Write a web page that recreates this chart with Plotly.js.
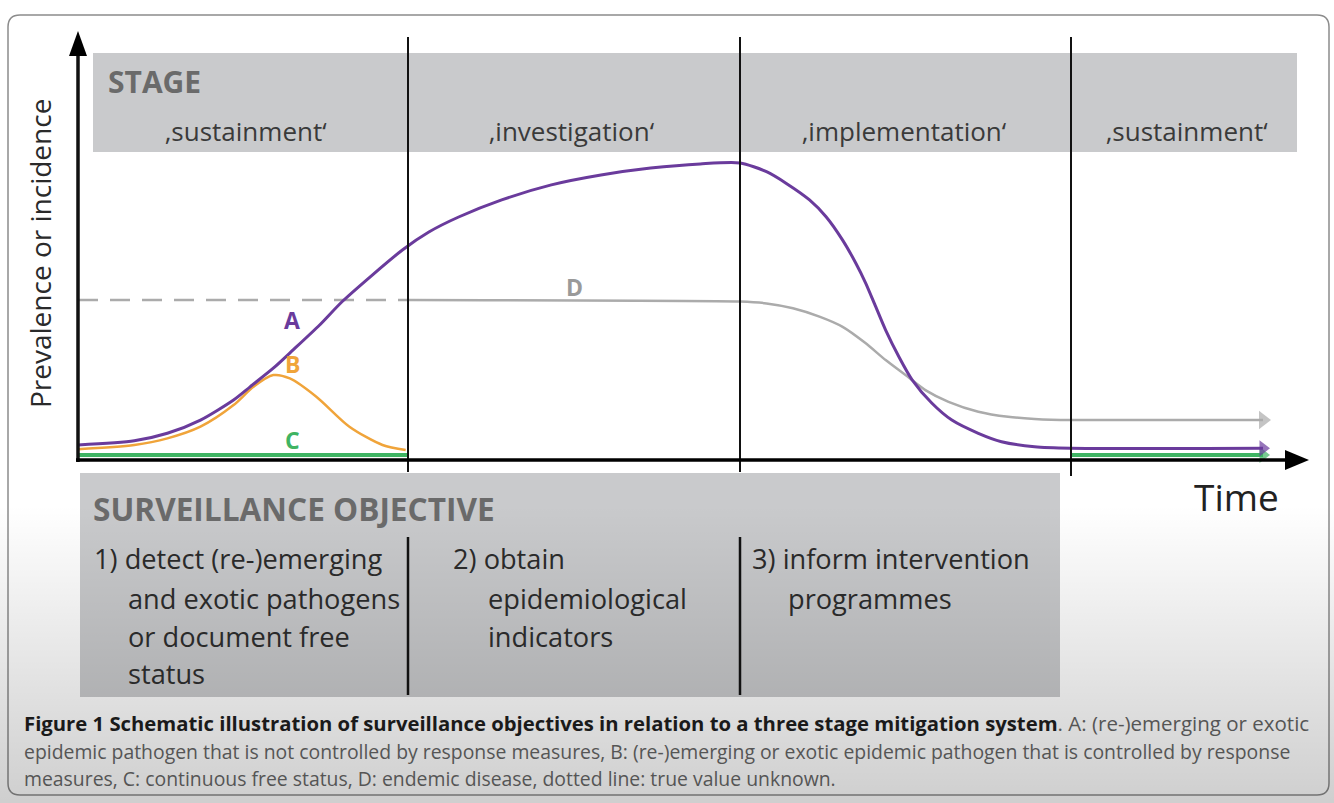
<!DOCTYPE html>
<html>
<head>
<meta charset="utf-8">
<script src="https://cdn.plot.ly/plotly-3.0.1.min.js"></script>
<style>html,body{margin:0;padding:0;background:#fff;}#chart{width:1334px;height:803px;}</style>
</head>
<body>
<div id="chart"></div>
<script>
// ---- data (time in stage units, prevalence in relative units) ----
const timeA = [0, 0.17, 0.27, 0.37, 0.47, 0.52, 0.59, 0.65, 0.73, 0.80, 0.98, 1.06, 1.15, 1.28, 1.43, 1.58, 1.73, 1.88, 2.0,
  2.08, 2.14, 2.21, 2.26, 2.31, 2.35, 2.38, 2.41, 2.44, 2.48, 2.52, 2.58, 2.64, 2.72, 2.79, 2.89, 3.0, 3.58];
const prevA = [0.05, 0.064, 0.089, 0.133, 0.20, 0.244, 0.306, 0.367, 0.45, 0.53, 0.70, 0.76, 0.81, 0.867, 0.917, 0.95, 0.973, 0.987, 0.99,
  0.961, 0.922, 0.867, 0.811, 0.733, 0.656, 0.589, 0.511, 0.433, 0.344, 0.267, 0.189, 0.133, 0.089, 0.061, 0.044, 0.039, 0.039];
const timeB = [0, 0.17, 0.27, 0.37, 0.47, 0.53, 0.59, 0.64, 0.72, 0.82, 0.92, 0.99];
const prevB = [0.036, 0.05, 0.072, 0.111, 0.183, 0.244, 0.283, 0.272, 0.211, 0.111, 0.05, 0.033];
const timeC1 = [0, 1.0];
const prevC1 = [0.017, 0.017];
const timeC2 = [3.0, 3.58];
const prevC2 = [0.017, 0.017];
const timeDdash = [0, 1.0];
const prevDdash = [0.533, 0.533];
const timeD = [1.0, 2.0, 2.08, 2.16, 2.24, 2.31, 2.38, 2.44, 2.50, 2.56, 2.63, 2.72, 2.81, 2.89, 3.0, 3.58];
const prevD = [0.533, 0.528, 0.522, 0.506, 0.478, 0.444, 0.389, 0.333, 0.283, 0.233, 0.194, 0.161, 0.144, 0.137, 0.133, 0.133];
const stageNames = ["‚sustainment‘", "‚investigation‘", "‚implementation‘", "‚sustainment‘"];
const seriesLabels = ["A", "B", "C", "D"];
const objectiveLines = [
  ["1) detect (re-)emerging", "and exotic pathogens", "or document free", "status"],
  ["2) obtain", "epidemiological", "indicators"],
  ["3) inform intervention", "programmes"]
];
const captionBold = "Figure 1 Schematic illustration of surveillance objectives in relation to a three stage mitigation system";
const captionRest = [
  ". A: (re-)emerging or exotic",
  "epidemic pathogen that is not controlled by response measures, B: (re-)emerging or exotic epidemic pathogen that is controlled by response",
  "measures, C: continuous free status, D: endemic disease, dotted line: true value unknown."
];

// ---- geometry helpers ----
const W = 1334, H = 803;
const X0 = 78, XU = 331, Y0 = 460, YU = 300;
const px = v => v / W;
const py = v => 1 - v / H;
const FONT = "Open Sans, Noto Sans, sans-serif";
const PURPLE = "#6a3b9c", ORANGE = "#f0a43a", GREEN = "#3fb463", GRAY = "#ababab";

function endMarker(n, size) { const a = new Array(n).fill(0); a[n - 1] = size; return a; }

const traces = [
  {x: timeDdash, y: prevDdash, mode: "lines", line: {color: GRAY, width: 2.5, dash: "20px,12px"}, hoverinfo: "skip"},
  {x: timeD, y: prevD, mode: "lines+markers", line: {color: GRAY, width: 2.5, shape: "spline", smoothing: 0.6},
   marker: {symbol: "triangle-right", size: endMarker(timeD.length, 16), color: GRAY, line: {width: 0}}, hoverinfo: "skip"},
  {x: timeB, y: prevB, mode: "lines", line: {color: ORANGE, width: 2.5, shape: "spline", smoothing: 0.8}, hoverinfo: "skip"},
  {x: timeC1, y: prevC1, mode: "lines", line: {color: GREEN, width: 4}, hoverinfo: "skip"},
  {x: timeC2, y: prevC2, mode: "lines+markers", line: {color: GREEN, width: 4},
   marker: {symbol: "triangle-right", size: endMarker(timeC2.length, 14), color: GREEN, line: {width: 0}}, hoverinfo: "skip"},
  {x: timeA, y: prevA, mode: "lines+markers", line: {color: PURPLE, width: 3, shape: "spline", smoothing: 0.7},
   marker: {symbol: "triangle-right", size: endMarker(timeA.length, 14), color: PURPLE, line: {width: 0}}, hoverinfo: "skip"}
];

function roundRect(x0, y0, x1, y1, r) {
  const P = (a, b) => px(a) + "," + py(b);
  return "M" + P(x0 + r, y0) + " L" + P(x1 - r, y0) + " Q" + P(x1, y0) + " " + P(x1, y0 + r) +
    " L" + P(x1, y1 - r) + " Q" + P(x1, y1) + " " + P(x1 - r, y1) +
    " L" + P(x0 + r, y1) + " Q" + P(x0, y1) + " " + P(x0, y1 - r) +
    " L" + P(x0, y0 + r) + " Q" + P(x0, y0) + " " + P(x0 + r, y0) + " Z";
}
function tri(pts) { return "M" + pts.map(p => px(p[0]) + "," + py(p[1])).join(" L") + " Z"; }
function vline(x, y0, y1, w) {
  return {type: "line", xref: "paper", yref: "paper", x0: px(x), x1: px(x), y0: py(y0), y1: py(y1), line: {color: "#111", width: w}};
}

const shapes = [
  {type: "path", xref: "paper", yref: "paper", path: roundRect(8, 15, 1329, 795, 12), line: {color: "#8c8c8c", width: 1.5}, layer: "below"},
  {type: "rect", xref: "paper", yref: "paper", x0: px(93), x1: px(1297), y0: py(53), y1: py(152), fillcolor: "#c9cacc", line: {width: 0}, layer: "below"},
  {type: "rect", xref: "paper", yref: "paper", x0: px(80), x1: px(1060), y0: py(473), y1: py(697), fillcolor: "#c9cacc", line: {width: 0}, layer: "below"},
  vline(408, 37, 472, 2), vline(740, 37, 472, 2), vline(1071, 37, 476, 2),
  vline(408, 537, 695, 2.5), vline(740, 537, 695, 2.5),
  vline(78, 462, 50, 3.5),
  {type: "line", xref: "paper", yref: "paper", x0: px(76), x1: px(1292), y0: py(460), y1: py(460), line: {color: "#000", width: 3.5}},
  {type: "path", xref: "paper", yref: "paper", path: tri([[78, 31], [69, 56], [87, 56]]), fillcolor: "#000", line: {width: 0}},
  {type: "path", xref: "paper", yref: "paper", path: tri([[1309, 460], [1285, 450], [1285, 470]]), fillcolor: "#000", line: {width: 0}}
];

const ann = [];
function txt(text, x, y, size, color, opts) {
  ann.push(Object.assign({text: text, xref: "paper", yref: "paper", x: px(x), y: py(y), showarrow: false,
    xanchor: "left", yanchor: "middle", font: {family: FONT, size: size, color: color}}, opts || {}));
}
txt("<b>STAGE</b>", 106, 82, 30, "#6a6a6a");
const stageCenters = [246, 572, 905, 1187];
stageNames.forEach((s, i) => txt(s, stageCenters[i], 131, 26, "#3a3a3a", {xanchor: "center"}));
txt("Prevalence or incidence", 40, 254, 28, "#2a2a2a", {xanchor: "center", textangle: -90});
txt("Time", 1236, 496, 37, "#222", {xanchor: "center"});
txt("<b>" + seriesLabels[0] + "</b>", 292, 320, 23, PURPLE, {xanchor: "center"});
txt("<b>" + seriesLabels[1] + "</b>", 292, 364, 23, ORANGE, {xanchor: "center"});
txt("<b>" + seriesLabels[2] + "</b>", 292, 440, 23, GREEN, {xanchor: "center"});
txt("<b>" + seriesLabels[3] + "</b>", 574, 287, 23, "#9a9a9a", {xanchor: "center"});
txt("<b>SURVEILLANCE OBJECTIVE</b>", 91, 508, 31.6, "#6a6a6a");
const objX = [[92, 126], [451, 486], [750, 786]];
const lineY = [558, 598, 636, 673];
objectiveLines.forEach((lines, i) => lines.forEach((l, j) => txt(l, j === 0 ? objX[i][0] : objX[i][1], lineY[j], 27.2, "#2a2a2a")));
txt("<b><span style='color:#1a1a1a;font-size:20.3px'>" + captionBold + "</span></b>" + captionRest[0], 22, 723, 20.5, "#555");
txt(captionRest[1], 22, 751, 19.4, "#555");
txt(captionRest[2], 22, 778, 19.4, "#555");

const svg = "<svg xmlns='http://www.w3.org/2000/svg' width='100' height='100' preserveAspectRatio='none'>" +
  "<defs><linearGradient id='g' x1='0' y1='0' x2='0' y2='1'><stop offset='0' stop-color='#000' stop-opacity='0'/>" +
  "<stop offset='1' stop-color='#000' stop-opacity='0.19'/></linearGradient></defs>" +
  "<rect width='100' height='100' fill='url(#g)'/></svg>";
const images = [{source: "data:image/svg+xml;charset=utf-8," + encodeURIComponent(svg), xref: "paper", yref: "paper",
  x: 0, y: py(505), sizex: 1, sizey: (803 - 505) / 803, sizing: "stretch", xanchor: "left", yanchor: "top", layer: "above", opacity: 1}];

const layout = {
  width: W, height: H, margin: {l: 0, r: 0, t: 0, b: 0},
  paper_bgcolor: "#fff", plot_bgcolor: "rgba(0,0,0,0)", showlegend: false,
  xaxis: {range: [-X0 / XU, (W - X0) / XU], visible: false, fixedrange: true},
  yaxis: {range: [(Y0 - H) / YU, Y0 / YU], visible: false, fixedrange: true},
  shapes: shapes, annotations: ann, images: images
};
Plotly.newPlot("chart", traces, layout, {displayModeBar: false, staticPlot: true});
</script>
</body>
</html>
